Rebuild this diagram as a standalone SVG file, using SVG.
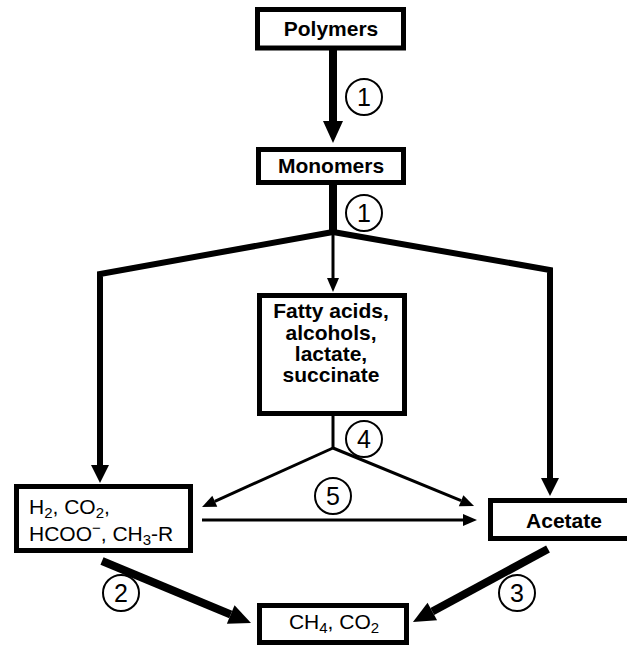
<svg xmlns="http://www.w3.org/2000/svg" width="627" height="646" viewBox="0 0 627 646">
<style>
.box{fill:#fff;stroke:#000;stroke-width:5}
.lbl{font-family:"Liberation Sans",Arial,sans-serif;font-size:21px;fill:#000}
.b{font-weight:bold}
.num{font-family:"Liberation Sans",Arial,sans-serif;font-size:25px;fill:#000;text-anchor:middle}
.circ{fill:#fff;stroke:#000;stroke-width:2}
.thick{stroke:#000;stroke-width:8;fill:none}
.mid{stroke:#000;stroke-width:6;fill:none;stroke-linejoin:miter}
.thin{stroke:#000;stroke-width:3;fill:none}
</style>
<defs>
<marker id="big" markerUnits="userSpaceOnUse" markerWidth="22" markerHeight="20" refX="0" refY="10" orient="auto" overflow="visible"><path d="M0,0 L22,10 L0,20 z" fill="#000"/></marker>
<marker id="med" markerUnits="userSpaceOnUse" markerWidth="18" markerHeight="18" refX="0" refY="9" orient="auto" overflow="visible"><path d="M0,0 L18,9 L0,18 z" fill="#000"/></marker>
<marker id="small" markerUnits="userSpaceOnUse" markerWidth="14" markerHeight="12" refX="0" refY="6" orient="auto" overflow="visible"><path d="M0,0 L14,6 L0,12 z" fill="#000"/></marker>
</defs>
<g id="connectors">
<line class="thick" x1="333" y1="50" x2="333" y2="121" marker-end="url(#big)"/>
<line class="thick" x1="333" y1="185" x2="333" y2="233"/>
<polyline class="mid" points="333,232 100,274 100,465" marker-end="url(#med)"/>
<polyline class="mid" points="333,232 550,270 550,478" marker-end="url(#med)"/>
<line class="thin" x1="333" y1="232" x2="333" y2="278" marker-end="url(#small)"/>
<line class="thin" x1="333" y1="416" x2="333" y2="448"/>
<line class="thin" x1="333" y1="448" x2="214.8" y2="501.3" marker-end="url(#small)"/>
<line class="thin" x1="333" y1="448" x2="461.1" y2="500.7" marker-end="url(#small)"/>
<line class="thin" x1="202" y1="520" x2="463" y2="520" marker-end="url(#small)"/>
<line class="thick" x1="102" y1="561" x2="230.7" y2="614.5" marker-end="url(#big)"/>
<line class="thick" x1="548" y1="549" x2="432.3" y2="611.5" marker-end="url(#big)"/>
</g>
<g id="polymers"><rect class="box" x="257.5" y="9.5" width="146" height="38.5"/><text class="lbl b" x="331" y="36" text-anchor="middle">Polymers</text></g>
<g id="monomers"><rect class="box" x="258.5" y="149.5" width="145" height="33"/><text class="lbl b" x="331" y="173" text-anchor="middle">Monomers</text></g>
<g id="fatty"><rect class="box" x="259.5" y="295.5" width="145" height="118"/>
<text class="lbl b" text-anchor="middle"><tspan x="331" y="318">Fatty acids,</tspan><tspan x="331" y="340">alcohols,</tspan><tspan x="331" y="361">lactate,</tspan><tspan x="331" y="382">succinate</tspan></text></g>
<g id="h2"><rect class="box" x="16.5" y="486.5" width="174" height="64"/>
<text class="lbl" x="29" y="514">H<tspan font-size="15" dy="4">2</tspan><tspan dy="-4">, CO</tspan><tspan font-size="15" dy="4">2</tspan><tspan dy="-4">,</tspan></text>
<text class="lbl" x="29" y="541">HCOO<tspan font-size="15" dy="-8">−</tspan><tspan dy="8">, CH</tspan><tspan font-size="15" dy="4">3</tspan><tspan dy="-4">-R</tspan></text></g>
<g id="acetate"><rect class="box" x="490.5" y="500.5" width="160" height="38"/><text class="lbl b" x="564" y="528" text-anchor="middle">Acetate</text></g>
<g id="ch4"><rect class="box" x="259.5" y="605.5" width="147" height="37"/>
<text class="lbl" x="334" y="629" text-anchor="middle">CH<tspan font-size="15" dy="4">4</tspan><tspan dy="-4">, CO</tspan><tspan font-size="15" dy="4">2</tspan></text></g>
<g id="step1a"><circle class="circ" cx="364" cy="97" r="18"/><text class="num" x="364" y="106">1</text></g>
<g id="step1b"><circle class="circ" cx="364" cy="213" r="18"/><text class="num" x="364" y="222">1</text></g>
<g id="step4"><circle class="circ" cx="364" cy="439" r="18"/><text class="num" x="364" y="448">4</text></g>
<g id="step5"><circle class="circ" cx="333" cy="496" r="18"/><text class="num" x="333" y="505">5</text></g>
<g id="step2"><circle class="circ" cx="121" cy="593" r="18"/><text class="num" x="121" y="602">2</text></g>
<g id="step3"><circle class="circ" cx="517" cy="593" r="18"/><text class="num" x="517" y="602">3</text></g>
</svg>
